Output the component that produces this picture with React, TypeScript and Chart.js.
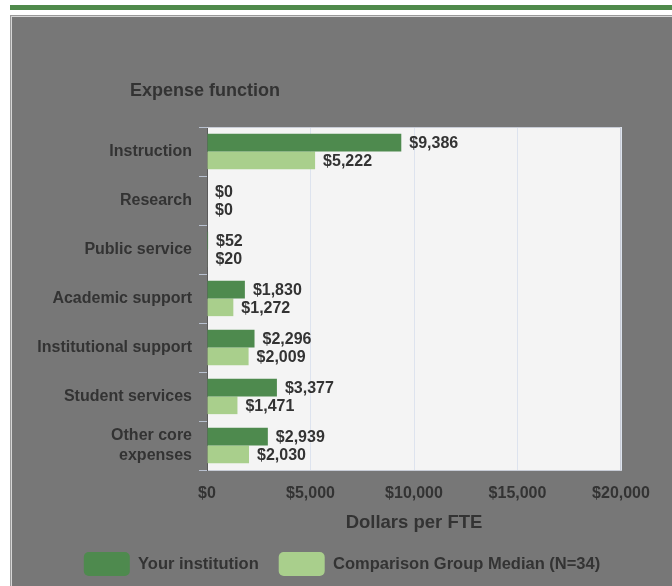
import React, { useEffect, useRef } from "react";
import { Chart, registerables } from "chart.js";

Chart.register(...registerables);

const categories: (string | string[])[] = [
  "Instruction",
  "Research",
  "Public service",
  "Academic support",
  "Institutional support",
  "Student services",
  ["Other core", "expenses"],
];
const yourInstitution = [9386, 0, 52, 1830, 2296, 3377, 2939];
const comparisonMedian = [5222, 0, 20, 1272, 2009, 1471, 2030];
const seriesNames = ["Your institution", "Comparison Group Median (N=34)"];
const xMin = 0;
const xMax = 20000;
const xStep = 5000;
const chartTitle = "Expense function";
const xAxisTitle = "Dollars per FTE";

const DARK = "#4e8a4e";
const LIGHT = "#a9cf8c";
const TEXT = "#333333";
const FONT = "'Liberation Sans', Arial, sans-serif";

const fmt = (v: number) => "$" + Number(v).toLocaleString("en-US");

const areaPlugin = {
  id: "areaPlugin",
  beforeDraw(chart: any) {
    const { ctx, chartArea } = chart;
    ctx.save();
    ctx.fillStyle = "#f4f4f4";
    ctx.fillRect(chartArea.left, chartArea.top, chartArea.right - chartArea.left, chartArea.bottom - chartArea.top);
    ctx.restore();
  },
  afterDraw(chart: any) {
    const { ctx, chartArea } = chart;
    ctx.save();
    ctx.strokeStyle = "#c8ccd6";
    ctx.lineWidth = 1;
    ctx.beginPath();
    ctx.moveTo(chartArea.left, chartArea.top + 0.5);
    ctx.lineTo(chartArea.right - 0.5, chartArea.top + 0.5);
    ctx.lineTo(chartArea.right - 0.5, chartArea.bottom);
    ctx.stroke();
    ctx.fillStyle = TEXT;
    ctx.font = "bold 18px " + FONT;
    ctx.textBaseline = "middle";
    ctx.textAlign = "left";
    ctx.fillText(chartTitle, 118, 74);
    ctx.restore();
  },
};

const valueLabels = {
  id: "valueLabels",
  afterDatasetsDraw(chart: any) {
    const { ctx } = chart;
    ctx.save();
    ctx.fillStyle = TEXT;
    ctx.font = "bold 16px " + FONT;
    ctx.textBaseline = "middle";
    ctx.textAlign = "left";
    chart.data.datasets.forEach((ds: any, di: number) => {
      const meta = chart.getDatasetMeta(di);
      meta.data.forEach((el: any, i: number) => {
        ctx.fillText(fmt(ds.data[i]), el.x + 8, el.y + 1);
      });
    });
    ctx.restore();
  },
};

export default function App() {
  const ref = useRef<HTMLCanvasElement>(null);
  useEffect(() => {
    if (!ref.current) return;
    const chart = new Chart(ref.current, {
      type: "bar",
      data: {
        labels: categories as any,
        datasets: [
          {
            label: seriesNames[0],
            data: yourInstitution,
            backgroundColor: DARK,
            borderColor: DARK,
            borderWidth: 0,
            categoryPercentage: 0.72,
            barPercentage: 1,
          },
          {
            label: seriesNames[1],
            data: comparisonMedian,
            backgroundColor: LIGHT,
            borderColor: LIGHT,
            borderWidth: 0,
            categoryPercentage: 0.72,
            barPercentage: 1,
          },
        ],
      },
      options: {
        indexAxis: "y",
        responsive: false,
        animation: false,
        layout: { padding: { top: 110, right: 0, left: 0, bottom: 0 } },
        scales: {
          x: {
            min: xMin,
            max: xMax,
            ticks: {
              stepSize: xStep,
              callback: (v: any) => fmt(v),
              color: TEXT,
              font: { family: FONT, size: 16, weight: "bold" },
              padding: 14,
              maxRotation: 0,
            },
            grid: { color: "#dde3ee", drawTicks: false, lineWidth: 1 },
            border: { color: "#c8ccd6" },
            title: {
              display: true,
              text: xAxisTitle,
              color: TEXT,
              font: { family: FONT, size: 18.5, weight: "bold" },
              padding: { top: 0, bottom: -2 },
            },
            afterFit: (s: any) => {
              s.height = 62;
            },
          },
          y: {
            ticks: {
              color: TEXT,
              font: { family: FONT, size: 16, weight: "bold" },
              padding: 7,
            },
            grid: { drawOnChartArea: false, drawTicks: true, tickLength: 8, color: "#b8c0cf" },
            border: { color: "#5a5a5a" },
            afterFit: (s: any) => {
              s.width = 195;
            },
          },
          yRight: {
            type: "linear",
            position: "right",
            display: true,
            grid: { display: false, drawTicks: false },
            border: { display: false },
            ticks: { display: false },
            afterFit: (s: any) => {
              s.width = 51;
            },
          },
        },
        plugins: {
          legend: {
            position: "bottom",
            labels: {
              boxWidth: 46,
              boxHeight: 24,
              useBorderRadius: true,
              borderRadius: 5,
              padding: 20,
              color: TEXT,
              font: { family: FONT, size: 16.5, weight: "bold" },
            },
          },
          tooltip: { enabled: false },
        },
      },
      plugins: [areaPlugin, valueLabels],
    } as any);
    return () => chart.destroy();
  }, []);

  return (
    <div style={{ position: "fixed", left: 0, top: 0, width: 672, height: 586, background: "#ffffff", overflow: "hidden" }}>
      <div style={{ position: "absolute", left: 10, top: 5, width: 662, height: 5, background: "#4f8a4b" }} />
      <div
        style={{
          position: "absolute",
          left: 10,
          top: 15,
          width: 662,
          height: 571,
          background: "#777777",
          borderLeft: "1px solid #9a9a9a",
          borderTop: "1px solid #9a9a9a",
          boxShadow: "inset 1px 1px 0 #d6d6d6",
          boxSizing: "border-box",
        }}
      />
      <canvas ref={ref} width={660} height={569} style={{ position: "absolute", left: 12, top: 17, width: 660, height: 569 }} />
    </div>
  );
}
